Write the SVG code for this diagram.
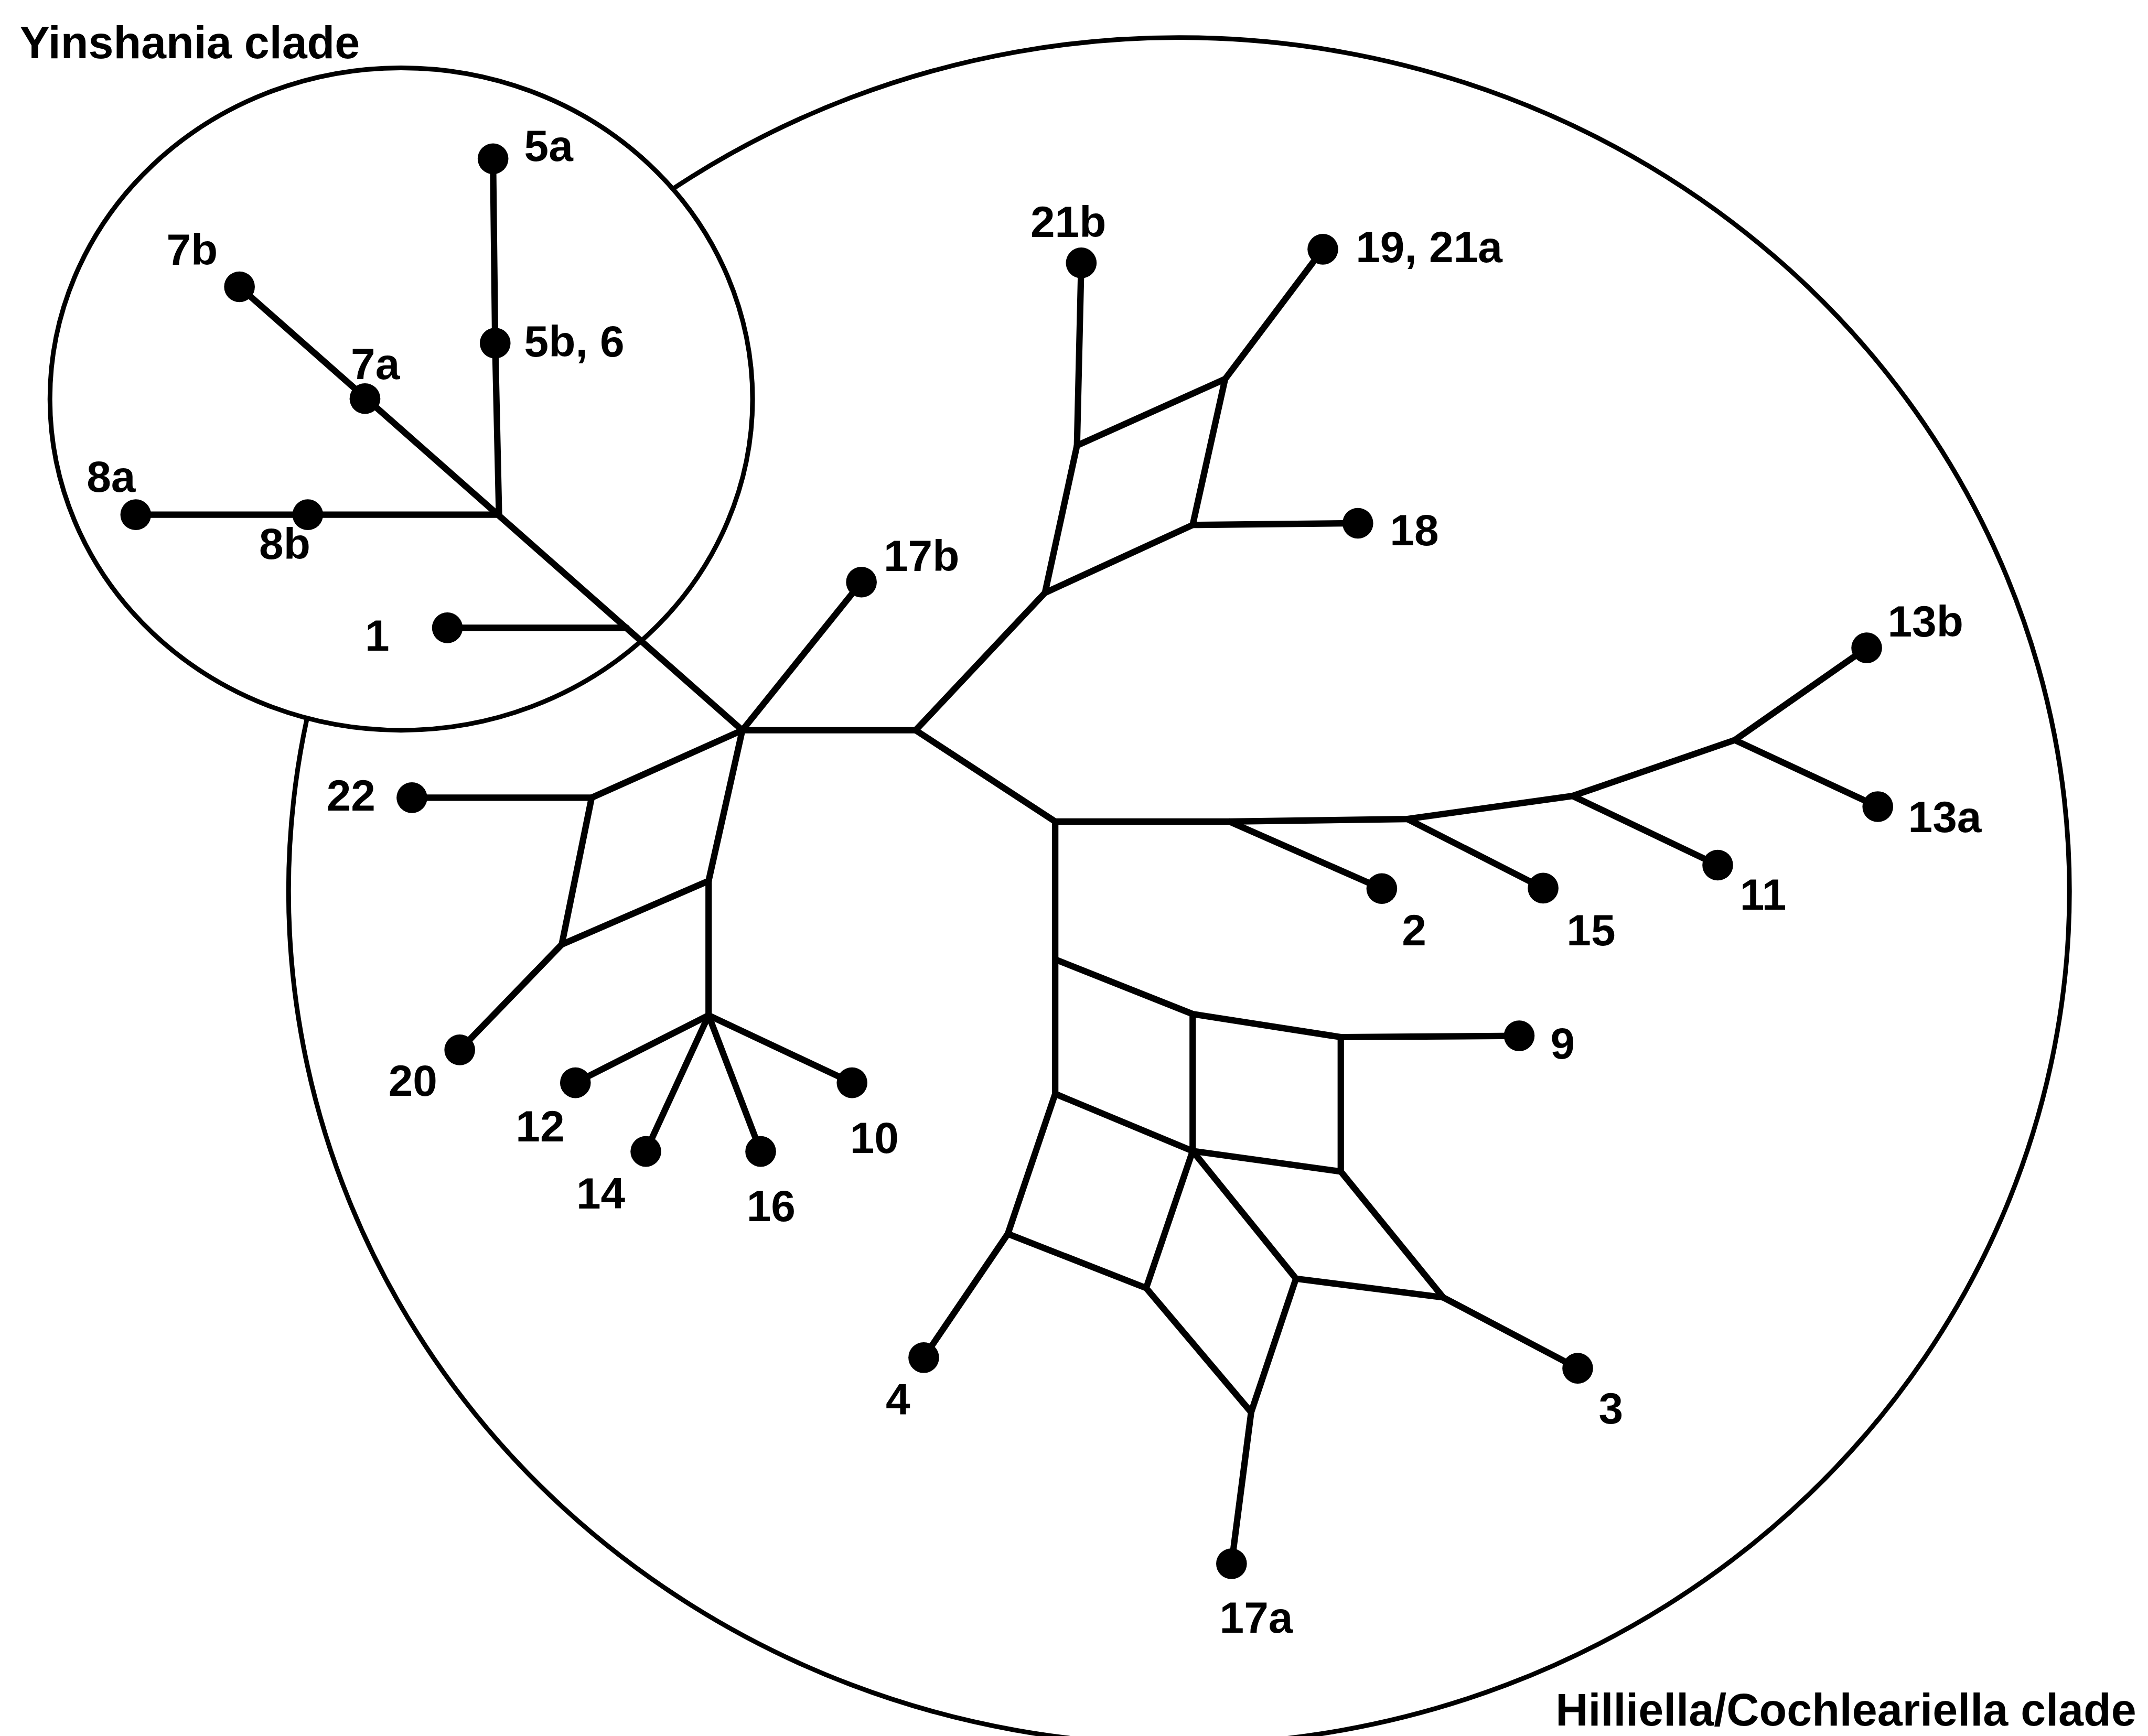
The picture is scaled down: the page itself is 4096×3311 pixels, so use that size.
<svg xmlns="http://www.w3.org/2000/svg" width="4096" height="3311" viewBox="0 0 4096 3311">
<style>
.edge{fill:none;stroke:#000;stroke-width:15;stroke-linecap:round;stroke-linejoin:round}
.clade{fill:none;stroke:#000;stroke-width:11}
.inner{fill:#fff}
.tip{fill:#000}
.lbl{font-family:"Liberation Sans",Arial,Helvetica,sans-serif;font-weight:bold;font-size:103px;fill:#000}
.title{font-size:106px}
</style>
<rect width="4096" height="3311" fill="#fff"/>
<!-- drawing laid out on a 5032 x 4068 grid, scaled to the canvas -->
<g transform="scale(0.81399)">
  <!-- clade outlines: the Yinshania outline is filled so it masks the larger one -->
  <g id="clades">
    <ellipse id="clade-hilliella" class="clade" cx="2762" cy="2088" rx="2086" ry="2000"/>
    <ellipse id="clade-yinshania" class="clade inner" cx="940" cy="935" rx="823" ry="776"/>
    <text class="lbl title" x="46" y="136">Yinshania clade</text>
    <text class="lbl title" x="3644" y="4043">Hilliella/Cochleariella clade</text>
  </g>

  <!-- network edges -->
  <g id="connectors">
    <path class="edge" d="M561 672 L1739 1711"/>
    <path class="edge" d="M1155 372 L1160 804 L1169 1206"/>
    <path class="edge" d="M318 1206 L1169 1206"/>
    <path class="edge" d="M1048 1471 L1468 1471"/>
    <path class="edge" d="M1739 1711 L2018 1364"/>
    <path class="edge" d="M1739 1711 L2145 1711"/>
    <path class="edge" d="M1739 1711 L1386 1869"/>
    <path class="edge" d="M1739 1711 L1660 2064"/>
    <path class="edge" d="M965 1869 L1386 1869 L1316 2213 L1077 2460"/>
    <path class="edge" d="M1660 2064 L1316 2213"/>
    <path class="edge" d="M1660 2064 L1660 2379"/>
    <path class="edge" d="M1660 2379 L1348 2537"/>
    <path class="edge" d="M1660 2379 L1513 2698"/>
    <path class="edge" d="M1660 2379 L1782 2698"/>
    <path class="edge" d="M1660 2379 L1996 2537"/>
    <path class="edge" d="M2145 1711 L2448 1389"/>
    <path class="edge" d="M2448 1389 L2523 1044 L2870 888 L2794 1230 Z"/>
    <path class="edge" d="M2523 1044 L2533 616"/>
    <path class="edge" d="M2870 888 L3099 584"/>
    <path class="edge" d="M2794 1230 L3181 1226"/>
    <path class="edge" d="M2145 1711 L2472 1925"/>
    <path class="edge" d="M2472 1925 L2880 1925 L3297 1919 L3684 1865 L4064 1734 L4373 1518"/>
    <path class="edge" d="M4064 1734 L4399 1890"/>
    <path class="edge" d="M3684 1865 L4024 2027"/>
    <path class="edge" d="M3297 1919 L3615 2081"/>
    <path class="edge" d="M2880 1925 L3237 2082"/>
    <path class="edge" d="M2472 1925 L2472 2563"/>
    <path class="edge" d="M2472 2248 L2794 2376 L3141 2430 L3559 2427"/>
    <path class="edge" d="M2794 2376 L2794 2697"/>
    <path class="edge" d="M3141 2430 L3141 2745"/>
    <path class="edge" d="M2472 2563 L2794 2697 L3141 2745"/>
    <path class="edge" d="M2472 2563 L2361 2891 L2164 3181"/>
    <path class="edge" d="M2361 2891 L2685 3018"/>
    <path class="edge" d="M2794 2697 L2685 3018 L2931 3309 L2885 3664"/>
    <path class="edge" d="M2794 2697 L3036 2996 L2931 3309"/>
    <path class="edge" d="M3141 2745 L3381 3040 L3696 3206"/>
    <path class="edge" d="M3036 2996 L3381 3040"/>
  </g>

  <!-- sampled tips -->
  <g id="n5a"><circle class="tip" cx="1155" cy="372" r="36"/><text class="lbl" x="1228" y="377">5a</text></g>
  <g id="n5b6"><circle class="tip" cx="1160" cy="804" r="36"/><text class="lbl" x="1228" y="835">5b, 6</text></g>
  <g id="n7b"><circle class="tip" cx="561" cy="672" r="36"/><text class="lbl" x="390" y="621">7b</text></g>
  <g id="n7a"><circle class="tip" cx="855" cy="934" r="36"/><text class="lbl" x="822" y="888">7a</text></g>
  <g id="n8a"><circle class="tip" cx="318" cy="1206" r="36"/><text class="lbl" x="203" y="1152">8a</text></g>
  <g id="n8b"><circle class="tip" cx="721" cy="1206" r="36"/><text class="lbl" x="607" y="1310">8b</text></g>
  <g id="n1"><circle class="tip" cx="1048" cy="1471" r="36"/><text class="lbl" x="855" y="1524">1</text></g>
  <g id="n17b"><circle class="tip" cx="2018" cy="1364" r="36"/><text class="lbl" x="2070" y="1338">17b</text></g>
  <g id="n21b"><circle class="tip" cx="2533" cy="616" r="36"/><text class="lbl" x="2414" y="555">21b</text></g>
  <g id="n19-21a"><circle class="tip" cx="3099" cy="584" r="36"/><text class="lbl" x="3176" y="614">19, 21a</text></g>
  <g id="n18"><circle class="tip" cx="3181" cy="1226" r="36"/><text class="lbl" x="3256" y="1278">18</text></g>
  <g id="n13b"><circle class="tip" cx="4373" cy="1518" r="36"/><text class="lbl" x="4422" y="1491">13b</text></g>
  <g id="n13a"><circle class="tip" cx="4399" cy="1890" r="36"/><text class="lbl" x="4470" y="1950">13a</text></g>
  <g id="n11"><circle class="tip" cx="4024" cy="2027" r="36"/><text class="lbl" x="4076" y="2131">11</text></g>
  <g id="n15"><circle class="tip" cx="3615" cy="2081" r="36"/><text class="lbl" x="3670" y="2215">15</text></g>
  <g id="n2"><circle class="tip" cx="3237" cy="2082" r="36"/><text class="lbl" x="3284" y="2215">2</text></g>
  <g id="n9"><circle class="tip" cx="3559" cy="2427" r="36"/><text class="lbl" x="3632" y="2480">9</text></g>
  <g id="n3"><circle class="tip" cx="3696" cy="3206" r="36"/><text class="lbl" x="3745" y="3335">3</text></g>
  <g id="n17a"><circle class="tip" cx="2885" cy="3664" r="36"/><text class="lbl" x="2857" y="3826">17a</text></g>
  <g id="n4"><circle class="tip" cx="2164" cy="3181" r="36"/><text class="lbl" x="2075" y="3315">4</text></g>
  <g id="n22"><circle class="tip" cx="965" cy="1869" r="36"/><text class="lbl" x="765" y="1899">22</text></g>
  <g id="n20"><circle class="tip" cx="1077" cy="2460" r="36"/><text class="lbl" x="910" y="2568">20</text></g>
  <g id="n12"><circle class="tip" cx="1348" cy="2537" r="36"/><text class="lbl" x="1208" y="2674">12</text></g>
  <g id="n14"><circle class="tip" cx="1513" cy="2698" r="36"/><text class="lbl" x="1350" y="2832">14</text></g>
  <g id="n16"><circle class="tip" cx="1782" cy="2698" r="36"/><text class="lbl" x="1749" y="2861">16</text></g>
  <g id="n10"><circle class="tip" cx="1996" cy="2537" r="36"/><text class="lbl" x="1991" y="2702">10</text></g>
</g>
</svg>
